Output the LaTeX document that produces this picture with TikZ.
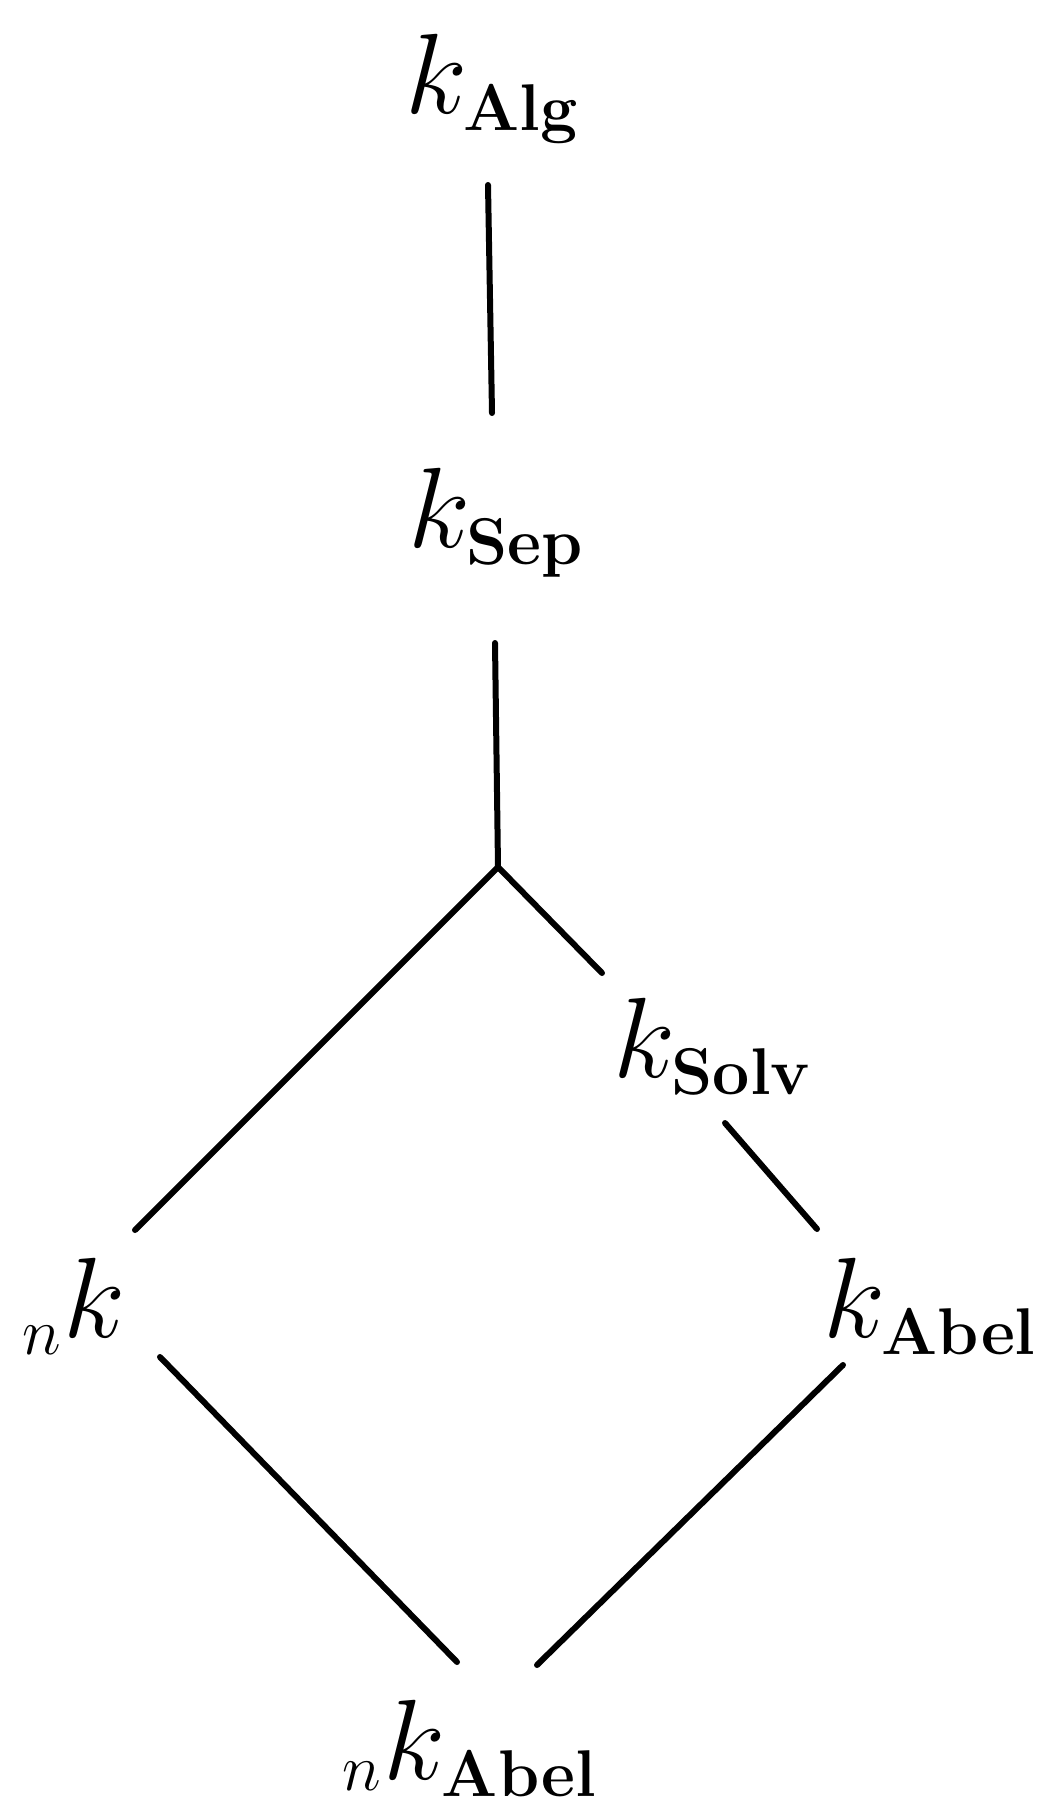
\documentclass[tikz,border=0pt]{standalone}
\usepackage{graphicx}
\newcommand{\bigk}[1]{\scalebox{3.134}{\huge #1}}
\newcommand{\subt}[1]{\hbox{\large\bfseries #1}}
\newcommand{\pren}{\hbox{\large$n$}}
\begin{document}
\begin{tikzpicture}[x=0.02cm,y=-0.02cm,
  lbl/.style={inner sep=0pt,anchor=base west},
  edge/.style={line width=0.12cm,line cap=round}]
\useasboundingbox (0,0) rectangle (1036,1808);
\node[lbl] (alg) at (405,113) {\bigk{$k_{\subt{Alg}}$}};
\node[lbl] (sep) at (408,547) {\bigk{$k_{\subt{Sep}}$}};
\node[lbl] (solv) at (613,1077) {\bigk{$k_{\subt{Solv}}$}};
\node[lbl] (nk) at (22,1337) {\bigk{${}_{\pren}k$}};
\node[lbl] (abel) at (823,1337) {\bigk{$k_{\subt{Abel}}$}};
\node[lbl] (nabel) at (342,1779) {\bigk{${}_{\raisebox{1pt}{\pren}}k_{\subt{Abel}}$}};
\coordinate (a1) at (488,185);
\coordinate (a2) at (492,413);
\coordinate (s1) at (495,643);
\coordinate (j) at (498,867);
\coordinate (l1) at (135,1230);
\coordinate (r1) at (602,973);
\coordinate (v1) at (725,1123);
\coordinate (v2) at (817,1229);
\coordinate (n1) at (160,1357);
\coordinate (n2) at (457,1662);
\coordinate (b1) at (843,1365);
\coordinate (b2) at (537,1665);
\draw[edge] (a1) -- (a2);
\draw[edge] (s1) -- (j);
\draw[edge] (j) -- (l1);
\draw[edge] (j) -- (r1);
\draw[edge] (v1) -- (v2);
\draw[edge] (n1) -- (n2);
\draw[edge] (b1) -- (b2);
\end{tikzpicture}
\end{document}
